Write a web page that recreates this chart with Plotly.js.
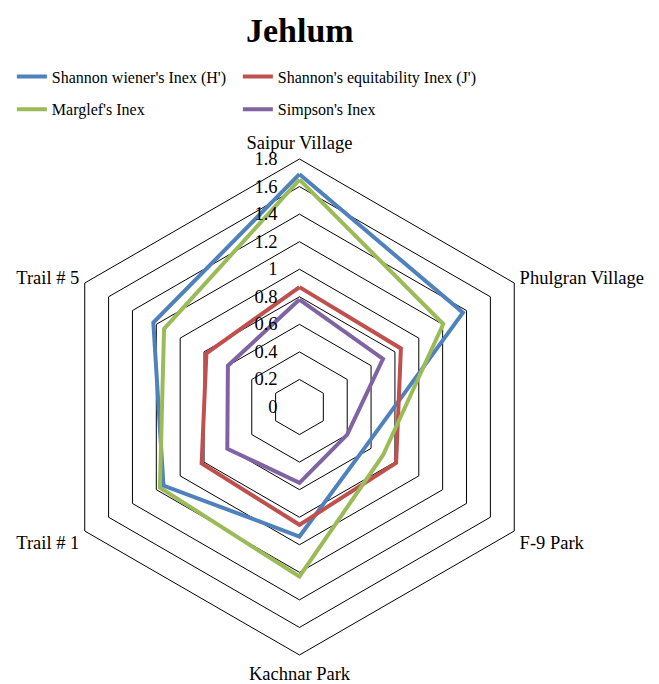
<!DOCTYPE html>
<html>
<head>
<meta charset="utf-8">
<script src="https://cdn.plot.ly/plotly-3.0.1.min.js"></script>
<style>
  html, body { margin: 0; padding: 0; background: #fff; }
  #plot { width: 659px; height: 684px; }
</style>
</head>
<body>
<div id="plot"></div>
<script>
// sites, clockwise from the top
const sites = ['Saipur Village', 'Phulgran Village', 'F-9 Park', 'Kachnar Park', 'Trail # 1', 'Trail # 5'];

const shannonH = [1.69, 1.37, 0.56, 0.94, 1.14, 1.225];
const equitabilityJ = [0.87, 0.85, 0.81, 0.855, 0.82, 0.78];
const margalef = [1.65, 1.205, 0.70, 1.23, 1.17, 1.135];
const simpson = [0.78, 0.70, 0.40, 0.55, 0.605, 0.60];

const seriesNames = ["Shannon wiener's Inex (H')", "Shannon's equitability Inex (J')", "Marglef's Inex", "Simpson's Inex"];
const seriesColors = ['#4F81BD', '#C0504D', '#9BBB59', '#8064A2'];

const serif = 'Liberation Serif, Times New Roman, serif';

// close each polygon by repeating the first point
function closed(arr) {
    return arr.concat([arr[0]]);
}

const allSeries = [shannonH, equitabilityJ, margalef, simpson];
const traces = allSeries.map((vals, i) => ({
    type: 'scatterpolar',
    r: closed(vals),
    theta: closed(sites),
    mode: 'lines',
    name: seriesNames[i],
    legendgroup: 'g' + i,
    // right-hand column gets a bit more room so its text isn't clipped
    legendwidth: (i % 2 === 1) ? 210 : 181,
    line: { color: seriesColors[i], width: 4 }
}));

const layout = {
    width: 659,
    height: 684,
    margin: { l: 0, r: 0, t: 0, b: 0 },
    paper_bgcolor: 'white',
    font: { family: serif, color: 'black', size: 16 },
    title: {
        text: '<b>Jehlum</b>',
        font: { family: serif, size: 34, color: 'black' },
        x: 0.455,
        xanchor: 'center',
        y: 0.956,
        yanchor: 'middle'
    },
    showlegend: true,
    legend: {
        orientation: 'h',
        x: 0.018,
        xanchor: 'left',
        y: 0.913,
        yanchor: 'top',
        tracegroupgap: 9,
        font: { family: serif, size: 16, color: 'black' },
        bgcolor: 'rgba(0,0,0,0)'
    },
    polar: {
        domain: { x: [0.0781, 0.8308], y: [0.0424, 0.7675] },
        gridshape: 'linear',
        bgcolor: 'white',
        radialaxis: {
            range: [0, 1.8],
            tick0: 0,
            dtick: 0.2,
            angle: 90,
            tickangle: 90,
            side: 'counterclockwise',
            showline: false,
            ticks: 'outside',
            ticklen: 15,
            tickcolor: 'rgba(0,0,0,0)',
            gridcolor: 'black',
            gridwidth: 1,
            tickfont: { family: serif, size: 18.5, color: 'black' }
        },
        angularaxis: {
            direction: 'clockwise',
            rotation: 90,
            showgrid: false,
            showline: true,
            linecolor: 'black',
            linewidth: 1,
            ticks: 'outside',
            ticklen: 2,
            tickcolor: 'rgba(0,0,0,0)',
            tickfont: { family: serif, size: 18.5, color: 'black' }
        }
    },
    hovermode: false
};

Plotly.newPlot('plot', traces, layout, { displayModeBar: false, staticPlot: true });
</script>
</body>
</html>
